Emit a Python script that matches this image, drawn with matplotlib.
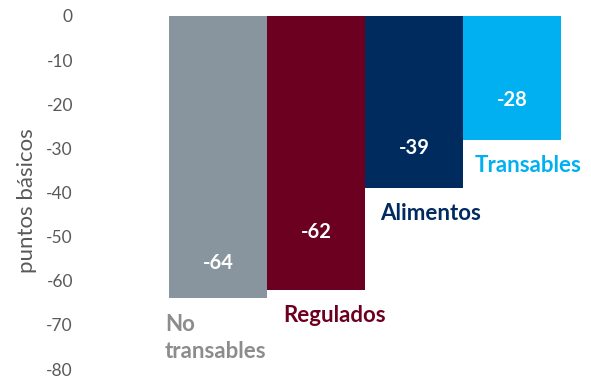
import matplotlib.pyplot as plt

# Datos (puntos básicos)
categorias = ["No\ntransables", "Regulados", "Alimentos", "Transables"]
valores = [-64, -62, -39, -28]
etiquetas_valor = ["-64", "-62", "-39", "-28"]
pos_etiqueta = [-56, -49, -30, -19]
colores = ["#89959e", "#6c0020", "#002b5f", "#00b0f0"]
colores_texto = ["#8c8c8c", "#6c0020", "#002b5f", "#00b0f0"]
desplaz_x = [-4, 16, 15, 12]  # px respecto al borde izq. de la barra
ticks_y = list(range(0, -90, -10))

plt.rcParams['font.family'] = ['Lato', 'DejaVu Sans']

fig = plt.figure(figsize=(5.91, 3.77), dpi=100)
ax = fig.add_axes([169 / 591, 8 / 377, (561 - 169) / 591, (369 - 16) / 377])

x = list(range(len(valores)))
ax.bar(x, valores, width=1.0, color=colores, edgecolor='none')

ax.set_xlim(-0.5, len(valores) - 0.5)
ax.set_ylim(-80, 0)
ax.set_yticks(ticks_y)
ax.set_yticklabels([str(t) for t in ticks_y])
ax.tick_params(axis='y', length=0, pad=96 * 0.72, labelsize=12.5, labelcolor='#595959')
ax.tick_params(axis='x', bottom=False, labelbottom=False)
for s in ax.spines.values():
    s.set_visible(False)

fig.text(27 / 591, 1 - 201 / 377, "puntos básicos", rotation=90, ha='center', va='center',
         fontsize=16, color='#595959')

# valores dentro de las barras
for i, v in enumerate(valores):
    ax.text(x[i], pos_etiqueta[i], etiquetas_valor[i], ha='center', va='center',
            color='white', fontsize=14.5, fontweight='bold')

# nombres de categoría debajo de cada barra
for i, v in enumerate(valores):
    ax.annotate(categorias[i], xy=(x[i] - 0.5, v), xytext=(desplaz_x[i] * 0.72, -11),
                textcoords='offset points', ha='left', va='top', color=colores_texto[i],
                fontsize=16, fontweight='bold', linespacing=1.4, annotation_clip=False)

fig.savefig('out.png', dpi=100)
